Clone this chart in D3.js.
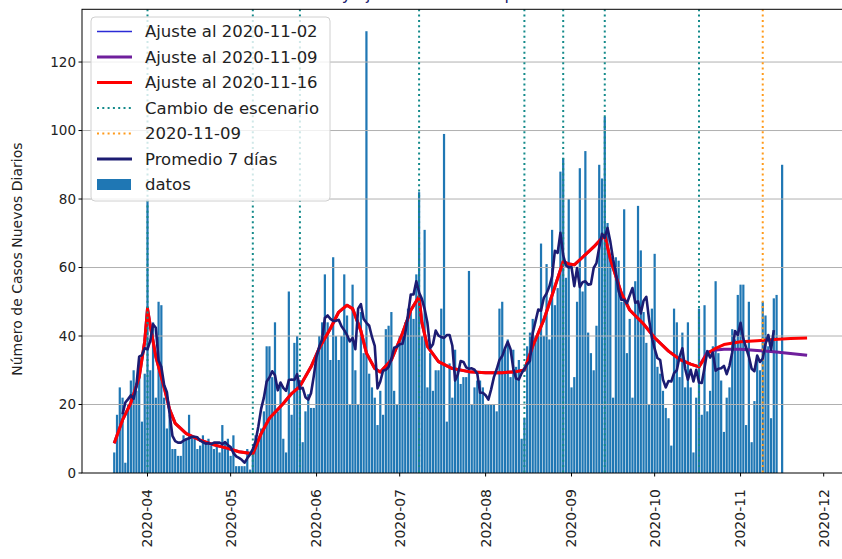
<!DOCTYPE html>
<html>
<head>
<meta charset="utf-8">
<script src="https://cdn.jsdelivr.net/npm/d3@7"></script>
<style>
  body { margin: 0; background: #fff; }
  text { font-family: "DejaVu Sans", sans-serif; }
</style>
</head>
<body>
<svg id="chart" width="842" height="559"></svg>
<script>
// daily new cases, starting 2020-03-20
const startDate = '2020-03-20';
const cases = [
  6, 17, 25, 22, 3, 20, 27, 30, 24, 33, 15, 29,
  80, 30, 44, 22, 50, 49, 22, 13, 17, 7, 7, 5, 5, 11, 10, 17, 11, 10, 7, 8, 11, 9, 10, 8, 7, 8, 6, 14, 9, 10,
  5, 11, 2, 2, 2, 2, 7, 1, 5, 11, 10, 13, 18, 37, 37, 28, 44, 18, 26, 10, 6, 53, 17, 38, 40, 27, 9, 18, 23, 19, 19,
  35, 40, 44, 58, 44, 33, 63, 40, 33, 40, 58, 46, 20, 55, 30, 20, 47, 35, 129, 29, 25, 22, 14, 24, 17, 42, 43, 47, 24, 20,
  40, 40, 44, 48, 48, 45, 58, 82, 40, 71, 25, 35, 24, 30, 30, 48, 99, 15, 32, 22, 36, 30, 26, 28, 28, 59, 20, 25, 27, 27, 25,
  20, 20, 20, 20, 18, 48, 50, 36, 39, 28, 36, 31, 33, 10, 16, 37, 41, 45, 40, 40, 67, 40, 61, 39, 71, 49, 54, 88, 92, 57, 80,
  25, 28, 50, 89, 53, 94, 41, 35, 30, 43, 90, 86, 104, 73, 63, 22, 63, 62, 50, 77, 35, 45, 22, 56, 78, 65, 47, 38, 20, 48,
  64, 31, 29, 24, 19, 16, 8, 48, 44, 28, 41, 25, 44, 25, 6, 22, 48, 17, 49, 18, 24, 37, 56, 35, 27, 12, 22, 25, 42, 39, 52,
  55, 55, 14, 50, 9, 21, 34, 30, 50, 46, 37, 16, 51, 52, 0, 90
];

// model fits: common part up to the last scenario change
const sharedDates = [
  '2020-03-20', '2020-03-23', '2020-03-26', '2020-03-29', '2020-03-31', '2020-04-01', '2020-04-02',
  '2020-04-04', '2020-04-07', '2020-04-09', '2020-04-11', '2020-04-15', '2020-04-20', '2020-04-25',
  '2020-04-30', '2020-05-04', '2020-05-09', '2020-05-12', '2020-05-15', '2020-05-20', '2020-05-23',
  '2020-05-26', '2020-05-30', '2020-06-02', '2020-06-06', '2020-06-09', '2020-06-12', '2020-06-14',
  '2020-06-17', '2020-06-19', '2020-06-22', '2020-06-24', '2020-06-28', '2020-07-02', '2020-07-05',
  '2020-07-08', '2020-07-09', '2020-07-11', '2020-07-15', '2020-07-20', '2020-07-26', '2020-08-01',
  '2020-08-07', '2020-08-12', '2020-08-15', '2020-08-18', '2020-08-22', '2020-08-26', '2020-08-29',
  '2020-08-31', '2020-09-02', '2020-09-05', '2020-09-09', '2020-09-13', '2020-09-15', '2020-09-19',
  '2020-09-22', '2020-09-27', '2020-10-01', '2020-10-06', '2020-10-10', '2020-10-14', '2020-10-17'
];
const sharedFit = [
  8.7, 15.5, 20.5, 28, 38.5, 48, 43,
  34, 25, 18.5, 14.5, 11.5, 9.6, 8.2,
  7.2, 6.2, 5.6, 11.5, 16, 20.3, 23.2,
  25.3, 31, 36.5, 42.2, 47, 49, 48,
  41.5, 35, 30.5, 29.5, 33, 40.8, 47.5,
  51.5, 44, 37, 32.5, 30.5, 29.6, 29.3,
  29.3, 29.6, 30.1, 37, 44.7, 54.4, 61.8,
  61, 60.8, 63, 66, 69.5, 62.5, 52.5,
  47.6, 43.5, 39.5, 35.6, 33.2, 31.8, 31
];
const tailDates = ['2020-10-20', '2020-10-23', '2020-10-26', '2020-11-01', '2020-11-07', '2020-11-13', '2020-11-19', '2020-11-25'];
const tail1102 = [35.3, 35.9, 36.1, 36.1, 35.8, 35.4, 34.9, 34.4];
const tail1109 = [35.3, 35.9, 36.1, 36.1, 35.8, 35.4, 34.9, 34.4];
const tail1116 = [34.8, 36.4, 37.5, 38.3, 38.6, 39.0, 39.3, 39.4];

const scenarioChanges = ['2020-04-01', '2020-05-09', '2020-05-26', '2020-07-08', '2020-08-15', '2020-08-29', '2020-09-13', '2020-10-17'];
const markerDate = '2020-11-09';

const yTicks = [0, 20, 40, 60, 80, 100, 120];
const xTickLabels = ['2020-04', '2020-05', '2020-06', '2020-07', '2020-08', '2020-09', '2020-10', '2020-11', '2020-12'];

const legendLabels = ['Ajuste al 2020-11-02', 'Ajuste al 2020-11-09', 'Ajuste al 2020-11-16',
  'Cambio de escenario', '2020-11-09', 'Promedio 7 días', 'datos'];

const parse = d3.utcParse('%Y-%m-%d');
const parseMonth = d3.utcParse('%Y-%m');

const plot = { left: 82, right: 842, top: 9.3, bottom: 473 };

const x = d3.scaleUtc()
  .domain([parse('2020-04-01'), parse('2020-12-01')])
  .range([147.5, 823.7]);
const y = d3.scaleLinear()
  .domain([0, 135.4])
  .range([plot.bottom, plot.top]);

const svg = d3.select('#chart');

svg.append('defs').append('clipPath').attr('id', 'plotClip')
  .append('rect')
  .attr('x', plot.left).attr('y', plot.top)
  .attr('width', plot.right - plot.left).attr('height', plot.bottom - plot.top);

// title (cut off at the top of the figure, only the descenders show)
svg.append('text')
  .attr('x', 456).attr('y', 0)
  .attr('text-anchor', 'middle')
  .style('font-size', '16px')
  .style('fill', '#1a1a6e')
  .text('Datos y ajuste del modelo por escenarios');

const g = svg.append('g').attr('clip-path', 'url(#plotClip)');

// bars
const start = parse(startDate);
const daily = cases.map((v, i) => ({ date: d3.utcDay.offset(start, i), value: v }));
const dayW = x(d3.utcDay.offset(start, 1)) - x(start);
const barW = dayW * 0.8;

g.append('g').selectAll('rect')
  .data(daily)
  .join('rect')
  .attr('x', d => x(d.date) - barW / 2)
  .attr('y', d => y(d.value))
  .attr('width', barW)
  .attr('height', d => y(0) - y(d.value))
  .attr('fill', '#1f77b4');

// grid
g.append('g').selectAll('line')
  .data(yTicks.filter(t => t > 0))
  .join('line')
  .attr('x1', plot.left).attr('x2', plot.right)
  .attr('y1', d => y(d)).attr('y2', d => y(d))
  .attr('stroke', '#b0b0b0')
  .attr('stroke-width', 1);

// fits
const line = d3.line()
  .x(d => x(d.date))
  .y(d => y(d.value));

function fitSeries(tail) {
  const a = sharedDates.map((s, i) => ({ date: parse(s), value: sharedFit[i] }));
  const b = tailDates.map((s, i) => ({ date: parse(s), value: tail[i] }));
  return a.concat(b);
}

const fits = [
  { data: fitSeries(tail1102), color: '#2b2bd6', width: 1.5 },
  { data: fitSeries(tail1109), color: '#6f1f9c', width: 3 },
  { data: fitSeries(tail1116), color: '#ff0000', width: 3 }
];

fits.forEach(f => {
  g.append('path')
    .datum(f.data)
    .attr('d', line)
    .attr('fill', 'none')
    .attr('stroke', f.color)
    .attr('stroke-width', f.width)
    .attr('stroke-linejoin', 'round');
});

// scenario changes
g.append('g').selectAll('line')
  .data(scenarioChanges)
  .join('line')
  .attr('x1', d => x(parse(d))).attr('x2', d => x(parse(d)))
  .attr('y1', plot.top).attr('y2', plot.bottom)
  .attr('stroke', '#138a8a')
  .attr('stroke-width', 2)
  .attr('stroke-dasharray', '2,3.3');

g.append('line')
  .attr('x1', x(parse(markerDate))).attr('x2', x(parse(markerDate)))
  .attr('y1', plot.top).attr('y2', plot.bottom)
  .attr('stroke', '#ff9a1a')
  .attr('stroke-width', 2)
  .attr('stroke-dasharray', '2,3.3');

// centred 7 day average
const avg = daily.slice(3, daily.length - 3).map((d, k) => ({
  date: d.date,
  value: d3.mean(cases.slice(k, k + 7))
}));

g.append('path')
  .datum(avg)
  .attr('d', line)
  .attr('fill', 'none')
  .attr('stroke', '#1c1c72')
  .attr('stroke-width', 2.6)
  .attr('stroke-linejoin', 'round');

// spines
svg.append('rect')
  .attr('x', plot.left).attr('y', plot.top)
  .attr('width', plot.right - plot.left + 2).attr('height', plot.bottom - plot.top)
  .attr('fill', 'none')
  .attr('stroke', '#000')
  .attr('stroke-width', 1);

// y axis
const yAxis = svg.append('g');
yTicks.forEach(t => {
  yAxis.append('line')
    .attr('x1', plot.left - 3.5).attr('x2', plot.left)
    .attr('y1', y(t)).attr('y2', y(t))
    .attr('stroke', '#000');
  yAxis.append('text')
    .attr('x', plot.left - 6).attr('y', y(t))
    .attr('dy', '0.35em')
    .attr('text-anchor', 'end')
    .style('font-size', '13.5px')
    .style('fill', '#222')
    .text(t);
});

// x axis
const xAxis = svg.append('g');
xTickLabels.forEach(lbl => {
  const px = x(parseMonth(lbl));
  xAxis.append('line')
    .attr('x1', px).attr('x2', px)
    .attr('y1', plot.bottom).attr('y2', plot.bottom + 3.5)
    .attr('stroke', '#000');
  xAxis.append('text')
    .attr('transform', `translate(${px},${plot.bottom + 16}) rotate(-90)`)
    .attr('dy', '0.35em')
    .attr('text-anchor', 'end')
    .style('font-size', '14px')
    .style('fill', '#222')
    .text(lbl);
});

svg.append('text')
  .attr('transform', `translate(22,${(plot.top + plot.bottom) / 2 + 18}) rotate(-90)`)
  .attr('text-anchor', 'middle')
  .style('font-size', '14px')
  .style('fill', '#222')
  .text('Número de Casos Nuevos Diarios');

// legend
const legend = svg.append('g');
legend.append('rect')
  .attr('x', 91).attr('y', 17)
  .attr('width', 239).attr('height', 184)
  .attr('rx', 4)
  .attr('fill', '#fff').attr('fill-opacity', 0.8)
  .attr('stroke', '#d0d0d0');

const handles = [
  { color: '#2b2bd6', width: 1.5 },
  { color: '#6f1f9c', width: 3 },
  { color: '#ff0000', width: 3 },
  { color: '#138a8a', width: 2, dash: '2,3.3' },
  { color: '#ff9a1a', width: 2, dash: '2,3.3' },
  { color: '#1c1c72', width: 3 },
  { bar: true }
];

legendLabels.forEach((lbl, i) => {
  const cy = 31.5 + i * 25.5;
  const h = handles[i];
  if (h.bar) {
    legend.append('rect')
      .attr('x', 97).attr('y', cy - 5.5)
      .attr('width', 34).attr('height', 11)
      .attr('fill', '#1f77b4');
  } else {
    legend.append('line')
      .attr('x1', 97).attr('x2', 132)
      .attr('y1', cy).attr('y2', cy)
      .attr('stroke', h.color)
      .attr('stroke-width', h.width)
      .attr('stroke-dasharray', h.dash || null);
  }
  legend.append('text')
    .attr('x', 145).attr('y', cy)
    .attr('dy', '0.35em')
    .style('font-size', '16.5px')
    .style('fill', '#222')
    .text(lbl);
});
</script>
</body>
</html>
